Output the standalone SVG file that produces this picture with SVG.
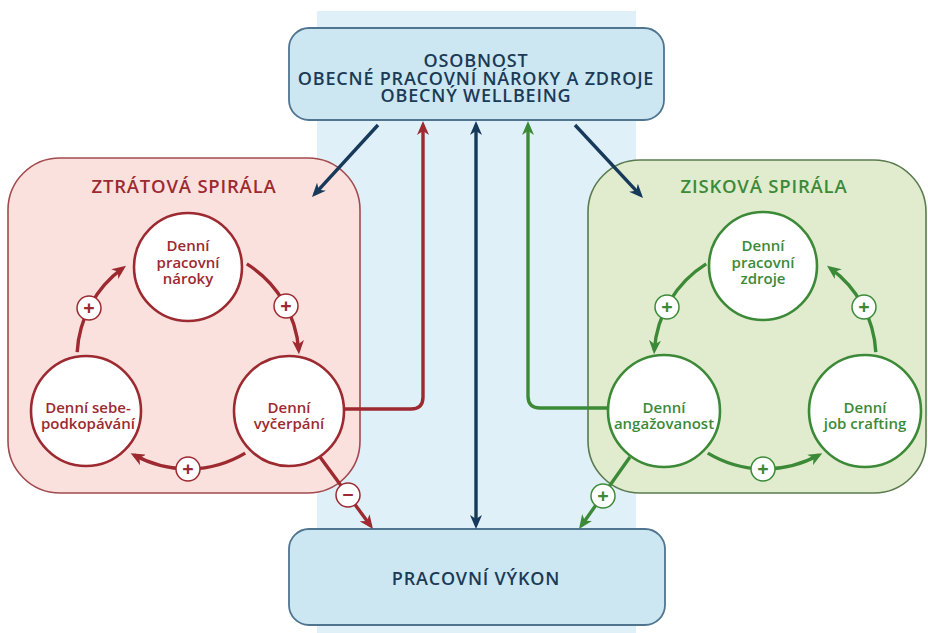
<svg xmlns="http://www.w3.org/2000/svg" width="928" height="633" viewBox="0 0 928 633">
<defs>
<style>
text{font-family:"Open Sans","Liberation Sans",sans-serif;font-weight:600;text-anchor:middle}
.navyT{fill:#1b3a56;font-size:18px;letter-spacing:0.8px}
.redT{fill:#9c2a30}
.grnT{fill:#3c8a38}
.title{font-size:18.5px;letter-spacing:0.8px}
.ct{font-size:15px}
.box{fill:#cce7f2;stroke:#4f7590;stroke-width:1.8}
.node{fill:#ffffff;stroke-width:2.6}
.rn{stroke:#9c2a30}
.gn{stroke:#3c8a38}
.ln{fill:none;stroke-width:3.4}
.rl{stroke:#9c2a30}
.gl{stroke:#3c8a38}
.nl{stroke:#17395a}
.badge{fill:#ffffff;stroke-width:1.5}
.bt{font-size:20px;font-weight:700}
</style>
<marker id="ar" viewBox="0 0 14 12" markerWidth="14" markerHeight="12" refX="10" refY="6" orient="auto-start-reverse" markerUnits="userSpaceOnUse"><path d="M0,0 L14,6 L0,12 L4,6 z" fill="#9c2a30"/></marker>
<marker id="ag" viewBox="0 0 14 12" markerWidth="14" markerHeight="12" refX="10" refY="6" orient="auto-start-reverse" markerUnits="userSpaceOnUse"><path d="M0,0 L14,6 L0,12 L4,6 z" fill="#3c8a38"/></marker>
<marker id="an" viewBox="0 0 14 12" markerWidth="14" markerHeight="12" refX="10" refY="6" orient="auto-start-reverse" markerUnits="userSpaceOnUse"><path d="M0,0 L14,6 L0,12 L4,6 z" fill="#17395a"/></marker>
</defs>
<rect x="0" y="0" width="928" height="633" fill="#ffffff"/>
<rect id="band" x="317" y="11" width="319" height="622" fill="#dff0f8"/>

<g id="ztratova-spirala">
<rect x="8" y="158" width="352" height="335" rx="52" fill="#fbe1dd" stroke="#a34a4e" stroke-width="1.6"/>
<text class="redT title" x="184" y="193">ZTRÁTOVÁ SPIRÁLA</text>
</g>
<g id="ziskova-spirala">
<rect x="588" y="160" width="338" height="333" rx="52" fill="#e1ecce" stroke="#5a7b4e" stroke-width="1.6"/>
<text class="grnT title" x="764" y="193">ZISKOVÁ SPIRÁLA</text>
</g>

<g id="osobnost">
<rect class="box" x="289" y="28" width="375" height="92" rx="20"/>
<text class="navyT"><tspan x="476" y="67">OSOBNOST</tspan><tspan x="476" dy="18">OBECNÉ PRACOVNÍ NÁROKY A ZDROJE</tspan><tspan x="476" dy="17">OBECNÝ WELLBEING</tspan></text>
</g>
<g id="pracovni-vykon">
<rect class="box" x="289" y="529" width="376" height="96" rx="20"/>
<text class="navyT" x="476" y="585">PRACOVNÍ VÝKON</text>
</g>

<g id="connectors">
<path class="ln rl" d="M246.8,263.9 A111,111 0 0 1 298.7,350.3" marker-end="url(#ar)"/>
<path class="ln rl" d="M245.2,453.1 A111,111 0 0 1 134.2,455.1" marker-end="url(#ar)"/>
<path class="ln rl" d="M77.2,352.2 A111,111 0 0 1 122.8,268.2" marker-end="url(#ar)"/>
<path class="ln gl" d="M706.2,263.9 A111,111 0 0 0 654.3,350.3" marker-end="url(#ag)"/>
<path class="ln gl" d="M707.8,453.1 A111,111 0 0 0 818.8,455.1" marker-end="url(#ag)"/>
<path class="ln gl" d="M875.8,352.2 A111,111 0 0 0 830.2,268.2" marker-end="url(#ag)"/>
<path class="ln nl" d="M378,125 L314.7,194.1" marker-end="url(#an)"/>
<path class="ln nl" d="M575,125 L640.3,195.1" marker-end="url(#an)"/>
<path class="ln nl" d="M476,125 L476,525" marker-start="url(#an)" marker-end="url(#an)"/>
<path class="ln rl" d="M344,409 H411 Q423,409 423,397 V125" marker-end="url(#ar)"/>
<path class="ln gl" d="M608,408 H540 Q528,408 528,396 V125" marker-end="url(#ag)"/>
<path class="ln rl" d="M320,457 L370.6,525.8" marker-end="url(#ar)"/>
<path class="ln gl" d="M630,457 L581.3,525.7" marker-end="url(#ag)"/>
</g>

<g id="denni-pracovni-naroky">
<circle class="node rn" cx="188" cy="267" r="54"/>
<text class="redT ct"><tspan x="188" y="251">Denní</tspan><tspan x="188" dy="16.5">pracovní</tspan><tspan x="188" dy="16.5">nároky</tspan></text>
</g>
<g id="denni-vycerpani">
<circle class="node rn" cx="289" cy="411" r="55"/>
<text class="redT ct"><tspan x="289" y="413">Denní</tspan><tspan x="289" dy="16">vyčerpání</tspan></text>
</g>
<g id="denni-sebepodkopavani">
<circle class="node rn" cx="86" cy="411" r="55"/>
<text class="redT ct"><tspan x="88" y="413">Denní sebe-</tspan><tspan x="88" dy="16">podkopávání</tspan></text>
</g>
<g id="denni-pracovni-zdroje">
<circle class="node gn" cx="763" cy="266" r="54"/>
<text class="grnT ct"><tspan x="763" y="251">Denní</tspan><tspan x="763" dy="16.5">pracovní</tspan><tspan x="763" dy="16.5">zdroje</tspan></text>
</g>
<g id="denni-angazovanost">
<circle class="node gn" cx="664" cy="411" r="56"/>
<text class="grnT ct"><tspan x="664" y="413">Denní</tspan><tspan x="664" dy="16">angažovanost</tspan></text>
</g>
<g id="denni-job-crafting">
<circle class="node gn" cx="865" cy="411" r="56"/>
<text class="grnT ct"><tspan x="865" y="413">Denní</tspan><tspan x="865" dy="16">job crafting</tspan></text>
</g>

<g id="badges">
<circle class="badge rn" cx="286" cy="306" r="12"/><text class="redT bt" x="286" y="313">+</text>
<circle class="badge rn" cx="188" cy="469" r="12"/><text class="redT bt" x="188" y="476">+</text>
<circle class="badge rn" cx="89" cy="308" r="12"/><text class="redT bt" x="89" y="315">+</text>
<circle class="badge rn" cx="348" cy="495" r="12"/><text class="redT bt" x="348" y="502">−</text>
<circle class="badge gn" cx="667" cy="307" r="12"/><text class="grnT bt" x="667" y="314">+</text>
<circle class="badge gn" cx="763" cy="469" r="12"/><text class="grnT bt" x="763" y="476">+</text>
<circle class="badge gn" cx="864" cy="307" r="12"/><text class="grnT bt" x="864" y="314">+</text>
<circle class="badge gn" cx="603" cy="496" r="12"/><text class="grnT bt" x="603" y="503">+</text>
</g>
</svg>
